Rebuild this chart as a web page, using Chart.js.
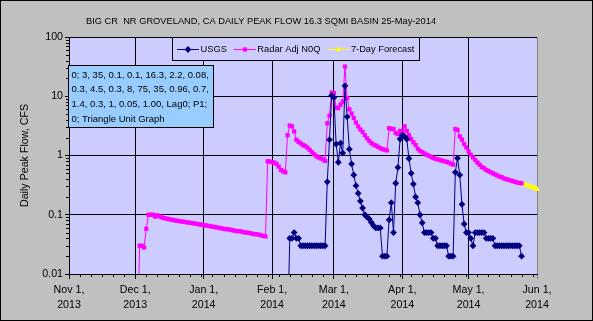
<!DOCTYPE html>
<html>
<head>
<meta charset="utf-8">
<script src="https://cdn.jsdelivr.net/npm/chart.js@4/dist/chart.umd.min.js"></script>
<style>
html,body{margin:0;padding:0;background:#C0C0C0;}
canvas{display:block;}
</style>
</head>
<body>
<canvas id="c" width="593" height="321" style="width:593px;height:321px"></canvas>
<script>
// ---------- data ----------
const chartTitle = 'BIG CR  NR GROVELAND, CA DAILY PEAK FLOW 16.3 SQMI BASIN 25-May-2014';
const yAxisTitle = 'Daily Peak Flow, CFS';
const seriesNames = ['USGS', 'Radar Adj N0Q', '7-Day Forecast'];

const axisStart = '2013-11-01';
const axisEnd = '2014-06-01';
const monthTickDates = ['2013-11-01','2013-12-01','2014-01-01','2014-02-01','2014-03-01','2014-04-01','2014-05-01','2014-06-01'];
const monthTickLabels = [['Nov 1,','2013'],['Dec 1,','2013'],['Jan 1,','2014'],['Feb 1,','2014'],['Mar 1,','2014'],['Apr 1,','2014'],['May 1,','2014'],['Jun 1,','2014']];
const yTickValues = [0.01, 0.1, 1, 10, 100];
const yTickLabels = ['0.01', '0.1', '1', '10', '100'];

// daily values, first value on the start date
const usgsStart = '2014-02-08';
const usgsValues = [
  0.001,
  0.04, 0.04, 0.05, 0.04, 0.04,
  0.03, 0.03, 0.03, 0.03, 0.03, 0.03, 0.03, 0.03, 0.03, 0.03, 0.03, 0.03,
  0.36, 1.85, 10.3, 9.5, 1.56, 0.77, 1.62, 1.1, 15, 4.5,
  1.28, 0.72, 0.47, 0.31, 0.23, 0.17, 0.13, 0.1, 0.092, 0.085,
  0.074, 0.065, 0.06, 0.06, 0.06, 0.02, 0.02, 0.02, 0.082, 0.16,
  0.05, 0.34, 0.63, 1.9, 2.2, 2.1, 1.9, 0.89, 0.5, 0.33,
  0.2, 0.16, 0.1, 0.073,
  0.05, 0.05, 0.05, 0.05, 0.04, 0.04,
  0.03, 0.03, 0.03, 0.03, 0.03, 0.02, 0.02, 0.02,
  0.52, 0.9, 0.47, 0.15, 0.07, 0.05, 0.05, 0.04, 0.03,
  0.05, 0.05, 0.05, 0.05, 0.05, 0.04, 0.04, 0.04, 0.04,
  0.03, 0.03, 0.03, 0.03, 0.03, 0.03, 0.03, 0.03, 0.03, 0.03, 0.03, 0.03,
  0.02
];

const radarStart = '2013-12-02';
const radarValues = [
  0.001, 0.03, 0.03, 0.028, 0.058, 0.1, 0.1, 0.1, 0.093, 0.098,
  0.094, 0.09, 0.088, 0.086, 0.085, 0.083, 0.082, 0.08, 0.079, 0.078,
  0.077, 0.076, 0.075, 0.074, 0.073, 0.072, 0.071, 0.07, 0.069, 0.068,
  0.067, 0.066, 0.065, 0.064, 0.063, 0.062, 0.061, 0.06, 0.059, 0.058,
  0.057, 0.057, 0.056, 0.055, 0.054, 0.053, 0.053, 0.052, 0.051, 0.05,
  0.05, 0.049, 0.048, 0.047, 0.047, 0.046, 0.045, 0.044, 0.043,
  0.8, 0.79, 0.77, 0.76, 0.72, 0.65, 0.57, 0.54, 0.52,
  2.2, 3.2, 3.1, 2.55, 1.84, 1.7, 1.6, 1.5, 1.45, 1.35,
  1.25, 1.14, 1.05, 0.98, 0.93, 0.9, 0.86, 0.81,
  3.5, 4.7, 11.5, 11.3, 6.4, 6.3, 7.2, 8.1, 31.7, 9.3,
  6.0, 5.1, 4.3, 3.6, 3.1, 2.75, 2.5, 2.2, 1.95, 1.77,
  1.62, 1.52, 1.47, 1.4, 1.33, 1.28, 1.25, 1.22,
  2.9, 2.8, 2.8, 2.4, 2.3, 2.6, 2.5, 3.1, 2.6, 2.2,
  1.9, 1.67, 1.5, 1.3, 1.2, 1.14, 1.08, 1.03, 0.99, 0.95,
  0.91, 0.88, 0.86, 0.84, 0.82, 0.8, 0.78, 0.76, 0.73, 0.7,
  2.8, 2.7, 2.1, 1.85, 1.56, 1.37, 1.17, 1.03, 0.93, 0.84,
  0.76, 0.7, 0.64, 0.61, 0.57, 0.55, 0.52, 0.5, 0.48, 0.46,
  0.44, 0.43, 0.41, 0.4, 0.39, 0.38, 0.37, 0.36, 0.35, 0.345,
  0.34
];

const forecastStart = '2014-05-26';
const forecastValues = [0.33, 0.32, 0.31, 0.3, 0.29, 0.28, 0.27];

const noteLines = [
  '0; 3, 35, 0.1, 0.1, 16.3, 2.2, 0.08,',
  '0.3, 4.5, 0.3, 8, 75, 35, 0.96, 0.7,',
  '1.4, 0.3, 1, 0.05, 1.00, Lag0; P1;',
  '0; Triangle Unit Graph'
];

// ---------- helpers ----------
const FONT = "'Liberation Sans', Arial, sans-serif";
const SMALL = 9.3;
const DAY = 86400000;
function dayOf(s){ return Math.round((Date.parse(s + 'T00:00:00Z') - Date.parse(axisStart + 'T00:00:00Z')) / DAY); }
function toPoints(start, vals){ const d0 = dayOf(start); return vals.map((v, i) => ({x: d0 + i, y: v})); }
const monthDays = monthTickDates.map(dayOf);
const endDay = dayOf(axisEnd);

const colors = ['#000080', '#FF00FF', '#FFFF00'];
const styles = ['rectRot', 'rect', 'triangle'];
const radii = [3.4, 3.0, 3.4];

function marker(ctx, style, x, y, r){
  ctx.beginPath();
  if (style === 'rectRot') {
    ctx.moveTo(x - r, y); ctx.lineTo(x, y - r); ctx.lineTo(x + r, y); ctx.lineTo(x, y + r);
  } else if (style === 'rect') {
    const s = r * Math.SQRT1_2;
    ctx.rect(x - s, y - s, 2 * s, 2 * s);
  } else {
    ctx.moveTo(x, y - r); ctx.lineTo(x + r * 0.866, y + r / 2); ctx.lineTo(x - r * 0.866, y + r / 2);
  }
  ctx.closePath();
  ctx.fill();
}

const backPlugin = {
  id: 'backPlugin',
  beforeDraw(chart){
    const {ctx, chartArea: a} = chart;
    ctx.save();
    ctx.fillStyle = '#C0C0C0';
    ctx.fillRect(0, 0, chart.width, chart.height);
    ctx.fillStyle = '#CCCCFF';
    ctx.fillRect(a.left, a.top, a.right - a.left, a.bottom - a.top);
    // chart title
    ctx.fillStyle = '#000';
    ctx.font = SMALL + 'px ' + FONT;
    ctx.textAlign = 'center';
    ctx.textBaseline = 'middle';
    ctx.fillText(chartTitle, 261, 21);
    ctx.restore();
  }
};

const overlayPlugin = {
  id: 'overlayPlugin',
  afterDraw(chart){
    const {ctx, chartArea: a, scales} = chart;
    const xs = scales.x, ys = scales.y;
    ctx.save();
    ctx.strokeStyle = '#000';
    ctx.lineWidth = 1;
    // minor x ticks every 5 days
    ctx.beginPath();
    for (let d = 5; d < endDay; d += 5) {
      if (monthDays.includes(d)) continue;
      const px = Math.round(xs.getPixelForValue(d)) + 0.5;
      ctx.moveTo(px, a.bottom); ctx.lineTo(px, a.bottom + 3);
    }
    // minor y ticks
    for (let i = 0; i < yTickValues.length - 1; i++) {
      for (let k = 2; k <= 9; k++) {
        const py = Math.round(ys.getPixelForValue(yTickValues[i] * k)) + 0.5;
        ctx.moveTo(a.left - 3, py); ctx.lineTo(a.left, py);
      }
    }
    ctx.stroke();

    // legend box
    const lx = 172.5, ly = 37.5, lw = 247, lh = 23;
    ctx.fillStyle = '#CCCCFF';
    ctx.fillRect(lx, ly, lw, lh);
    ctx.strokeRect(lx, ly, lw, lh);
    ctx.font = SMALL + 'px ' + FONT;
    ctx.textBaseline = 'middle';
    ctx.textAlign = 'left';
    let x = 177;
    const cy = 49;
    chart.data.datasets.forEach((ds, i) => {
      ctx.strokeStyle = colors[i];
      ctx.beginPath();
      ctx.moveTo(x, cy + 0.5); ctx.lineTo(x + 22, cy + 0.5);
      ctx.stroke();
      ctx.fillStyle = colors[i];
      marker(ctx, styles[i], x + 11, cy + 0.5, radii[i]);
      ctx.fillStyle = '#000';
      const tx = x + 23.5;
      ctx.fillText(ds.label, tx, cy);
      x = tx + ctx.measureText(ds.label).width + 7;
    });

    // parameter note box
    const bx = 68.5, by = 65.5, bw = 145, bh = 62;
    ctx.fillStyle = '#99CCFF';
    ctx.fillRect(bx, by, bw, bh);
    ctx.strokeStyle = '#000';
    ctx.strokeRect(bx, by, bw, bh);
    ctx.fillStyle = '#000';
    ctx.font = '9.5px ' + FONT;
    noteLines.forEach((t, i) => ctx.fillText(t, 71.5, 75 + i * 14.7));

    // outer frame
    ctx.strokeRect(0.5, 0.5, chart.width - 1, chart.height - 1);
    ctx.restore();
  }
};

const allSeries = [toPoints(usgsStart, usgsValues), toPoints(radarStart, radarValues), toPoints(forecastStart, forecastValues)];

new Chart(document.getElementById('c'), {
  type: 'line',
  data: {
    datasets: allSeries.map((pts, i) => ({
      label: seriesNames[i],
      data: pts,
      borderColor: colors[i],
      backgroundColor: colors[i],
      borderWidth: 1,
      pointStyle: styles[i],
      pointRadius: radii[i],
      pointBorderWidth: 0,
      pointBackgroundColor: colors[i],
      tension: 0,
      fill: false,
      clip: i === 2 ? 5 : undefined
    }))
  },
  options: {
    responsive: false,
    animation: false,
    devicePixelRatio: 1,
    layout: {padding: {left: 0, right: 56, top: 37, bottom: 0}},
    plugins: {
      legend: {display: false},
      tooltip: {enabled: false},
      title: {display: false}
    },
    scales: {
      x: {
        type: 'linear',
        min: 0,
        max: endDay,
        afterBuildTicks: s => { s.ticks = monthDays.map(v => ({value: v})); },
        afterFit: s => { s.height = 47; },
        ticks: {
          autoSkip: false,
          maxRotation: 0,
          minRotation: 0,
          color: '#000',
          padding: 4.25,
          font: {family: FONT, size: 10.67, lineHeight: 1.36},
          callback: (v, i) => monthTickLabels[i]
        },
        grid: {
          color: c => (c.tick && c.tick.value === endDay) ? '#808080' : '#000',
          lineWidth: 1,
          tickLength: 5,
          drawTicks: true
        },
        border: {color: '#000', width: 1}
      },
      y: {
        type: 'logarithmic',
        min: 0.01,
        max: 100,
        afterBuildTicks: s => { s.ticks = yTickValues.map(v => ({value: v})); },
        afterFit: s => { s.width = 69; },
        ticks: {
          autoSkip: false,
          color: '#000',
          padding: 2,
          font: {family: FONT, size: 10.67},
          callback: (v, i) => yTickLabels[i]
        },
        grid: {color: '#000', lineWidth: 1, tickLength: 4, drawTicks: true},
        border: {color: '#000', width: 1},
        title: {
          display: true,
          text: yAxisTitle,
          color: '#000',
          font: {family: FONT, size: 10.67, lineHeight: 1.2},
          padding: {top: 18.6, bottom: 0}
        }
      }
    }
  },
  plugins: [backPlugin, overlayPlugin]
});
</script>
</body>
</html>
